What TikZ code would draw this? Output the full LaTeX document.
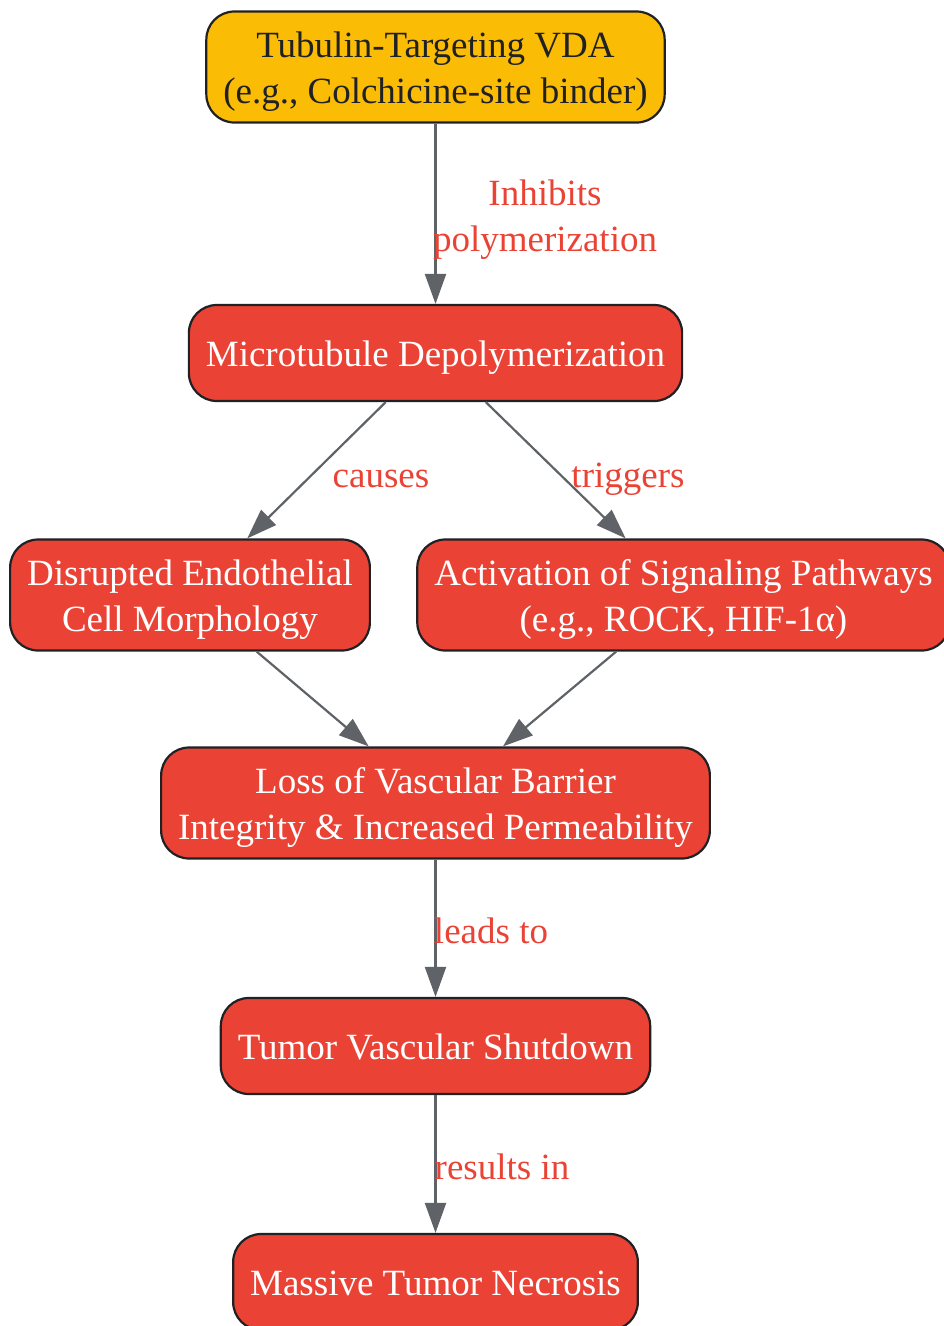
\documentclass[tikz,border=0pt]{standalone}
\usepackage{fontspec}
\setmainfont{Liberation Serif}
\usetikzlibrary{arrows.meta,positioning}
\definecolor{vdaYellow}{HTML}{FBBC05}
\definecolor{stepRed}{HTML}{EA4335}
\definecolor{edgeGray}{HTML}{5F6368}
\definecolor{inkDark}{HTML}{202124}
\newcommand{\lineStrut}{\rule[-9pt]{0pt}{45pt}}
\tikzset{>={Triangle[length=30pt,width=21pt]}}
\tikzset{
  box/.style={draw=inkDark,line width=2.2pt,fill=stepRed,text=white,
    rounded corners=28pt,align=center,minimum height=96pt,
    inner xsep=17pt,inner ysep=10pt,font=\fontsize{37}{44}\selectfont},
  topbox/.style={box,fill=vdaYellow,text=inkDark},
  link/.style={->,draw=edgeGray,line width=2.2pt},
  lbl/.style={text=stepRed,align=center,font=\fontsize{37}{44}\selectfont}
}

\begin{document}
\begin{tikzpicture}[x=1pt,y=1pt]
      \useasboundingbox (0,0) rectangle (943,-1326);
      \node [topbox] (vda) at (435.5,-67) {\lineStrut Tubulin-Targeting VDA\\\lineStrut (e.g., Colchicine-site binder)};
      \node [box] (depol) at (435.5,-353) {\lineStrut Microtubule Depolymerization};
      \node [box] (morph) at (190,-595) {\lineStrut Disrupted Endothelial\\\lineStrut Cell Morphology};
      \node [box] (signal) at (683.5,-595) {\lineStrut Activation of Signaling Pathways\\\lineStrut (e.g., ROCK, HIF-1α)};
      \node [box] (barrier) at (435.5,-803) {\lineStrut Loss of Vascular Barrier\\\lineStrut Integrity \& Increased Permeability};
      \node [box] (shutdown) at (435.5,-1046) {\lineStrut Tumor Vascular Shutdown};
      \node [box] (necrosis) at (435.5,-1282) {\lineStrut Massive Tumor Necrosis};

      \draw [link] (vda) -- (depol);
      \draw [link] (depol) -- (morph);
      \draw [link] (depol) -- (signal);
      \draw [link] (morph) -- (barrier);
      \draw [link] (signal) -- (barrier);
      \draw [link] (barrier) -- (shutdown);
      \draw [link] (shutdown) -- (necrosis);

      \node [lbl] (lInhibit) at (545,-215) {\lineStrut Inhibits\\\lineStrut polymerization};
      \node [lbl] (lCauses) at (381,-474) {\lineStrut causes};
      \node [lbl] (lTriggers) at (628,-474) {\lineStrut triggers};
      \node [lbl] (lLeads) at (491,-930) {\lineStrut leads to};
      \node [lbl] (lResults) at (502,-1166) {\lineStrut results in};
    \end{tikzpicture}
\end{document}
